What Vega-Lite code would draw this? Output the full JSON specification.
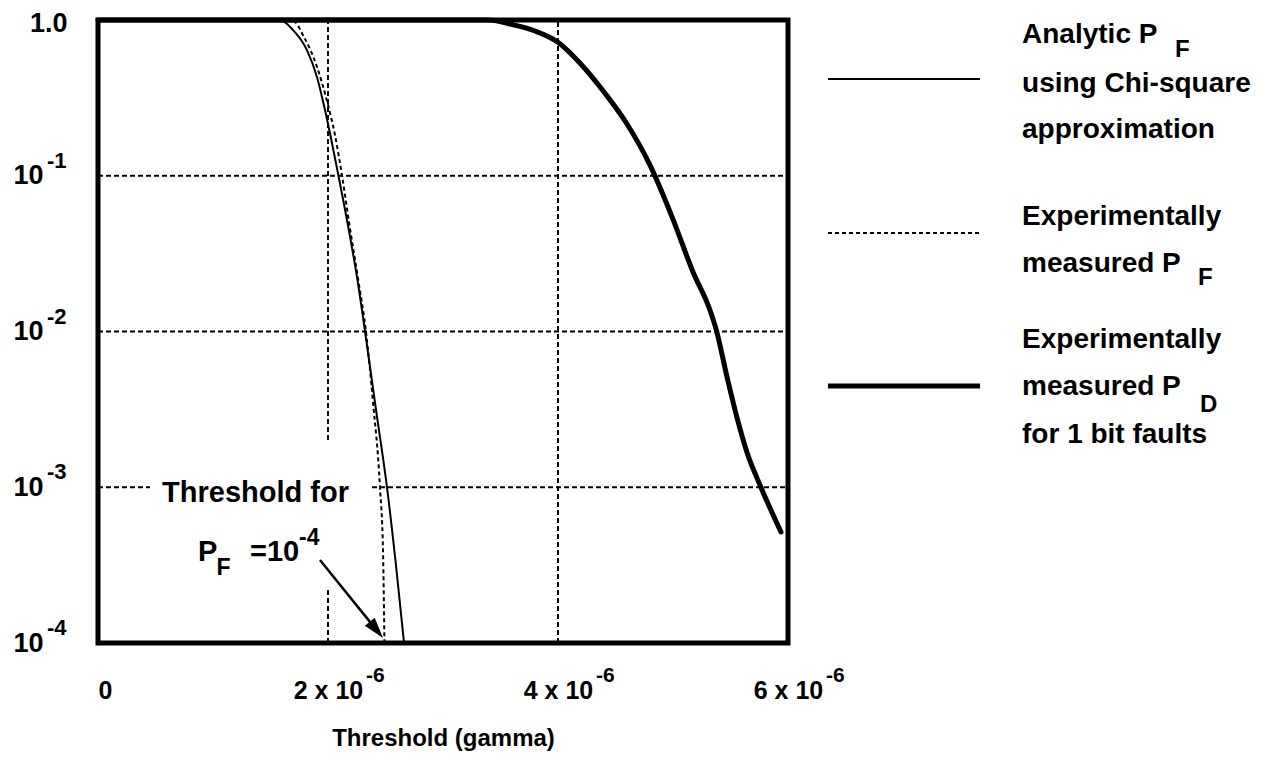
{
  "$schema": "https://vega.github.io/schema/vega-lite/v6.json",
  "width": 690,
  "height": 623,
  "autosize": {"type": "none"},
  "padding": {"left": 98, "top": 20, "right": 489, "bottom": 116},
  "background": "white",
  "config": {
    "view": {"stroke": "black", "strokeWidth": 5},
    "font": "Liberation Sans"
  },
  "datasets": {
    "curves": [
      {"series": "analytic", "x": 0, "y": 1},
      {"series": "analytic", "x": 1.58, "y": 1},
      {"series": "analytic", "x": 1.696, "y": 0.863},
      {"series": "analytic", "x": 1.817, "y": 0.641},
      {"series": "analytic", "x": 1.904, "y": 0.431},
      {"series": "analytic", "x": 1.974, "y": 0.264},
      {"series": "analytic", "x": 2.017, "y": 0.188},
      {"series": "analytic", "x": 2.091, "y": 0.1},
      {"series": "analytic", "x": 2.174, "y": 0.0479},
      {"series": "analytic", "x": 2.252, "y": 0.0224},
      {"series": "analytic", "x": 2.322, "y": 0.01},
      {"series": "analytic", "x": 2.417, "y": 0.00316},
      {"series": "analytic", "x": 2.513, "y": 0.001},
      {"series": "analytic", "x": 2.591, "y": 0.000316},
      {"series": "analytic", "x": 2.661, "y": 0.0001},
      {"series": "measured", "x": 0, "y": 1},
      {"series": "measured", "x": 1.687, "y": 1},
      {"series": "measured", "x": 1.791, "y": 0.778},
      {"series": "measured", "x": 1.904, "y": 0.501},
      {"series": "measured", "x": 1.991, "y": 0.302},
      {"series": "measured", "x": 2.061, "y": 0.182},
      {"series": "measured", "x": 2.122, "y": 0.1},
      {"series": "measured", "x": 2.183, "y": 0.0501},
      {"series": "measured", "x": 2.261, "y": 0.0219},
      {"series": "measured", "x": 2.33, "y": 0.01},
      {"series": "measured", "x": 2.391, "y": 0.00355},
      {"series": "measured", "x": 2.452, "y": 0.001},
      {"series": "measured", "x": 2.478, "y": 0.000398},
      {"series": "measured", "x": 2.491, "y": 0.0001},
      {"series": "pd", "x": 0, "y": 1},
      {"series": "pd", "x": 3.4, "y": 1},
      {"series": "pd", "x": 3.6, "y": 0.935},
      {"series": "pd", "x": 3.8, "y": 0.85},
      {"series": "pd", "x": 4.0, "y": 0.72},
      {"series": "pd", "x": 4.2, "y": 0.52},
      {"series": "pd", "x": 4.4, "y": 0.345},
      {"series": "pd", "x": 4.6, "y": 0.215},
      {"series": "pd", "x": 4.8, "y": 0.117},
      {"series": "pd", "x": 5.0, "y": 0.0525},
      {"series": "pd", "x": 5.174, "y": 0.0241},
      {"series": "pd", "x": 5.322, "y": 0.0137},
      {"series": "pd", "x": 5.374, "y": 0.0104},
      {"series": "pd", "x": 5.47, "y": 0.0051},
      {"series": "pd", "x": 5.557, "y": 0.00279},
      {"series": "pd", "x": 5.643, "y": 0.00168},
      {"series": "pd", "x": 5.757, "y": 0.00103},
      {"series": "pd", "x": 5.939, "y": 0.000516}
    ],
    "grid": [
      {"x": 0, "x2": 6, "y": 0.1, "y2": 0.1},
      {"x": 0, "x2": 6, "y": 0.01, "y2": 0.01},
      {"x": 0, "x2": 0.452, "y": 0.001, "y2": 0.001},
      {"x": 2.383, "x2": 6, "y": 0.001, "y2": 0.001},
      {"x": 4, "x2": 4, "y": 0.0001, "y2": 1},
      {"x": 2, "x2": 2, "y": 0.00201, "y2": 1},
      {"x": 2, "x2": 2, "y": 0.0001, "y2": 0.000225}
    ],
    "legendLines": [
      {"series": "analytic", "x": 6.348, "x2": 7.67, "y": 0.418},
      {"series": "measured", "x": 6.348, "x2": 7.67, "y": 0.0429},
      {"series": "pd", "x": 6.348, "x2": 7.67, "y": 0.00447}
    ],
    "legendText": [
      {"x": 8.035, "y": 0.711, "t": "Analytic P"},
      {"x": 8.035, "y": 0.345, "t": "using Chi-square"},
      {"x": 8.035, "y": 0.1747, "t": "approximation"},
      {"x": 8.035, "y": 0.0483, "t": "Experimentally"},
      {"x": 8.035, "y": 0.0241, "t": "measured P"},
      {"x": 8.035, "y": 0.00783, "t": "Experimentally"},
      {"x": 8.035, "y": 0.00391, "t": "measured P"},
      {"x": 8.035, "y": 0.00192, "t": "for 1 bit faults"}
    ],
    "legendSub": [
      {"x": 9.365, "y": 0.5786, "t": "F"},
      {"x": 9.565, "y": 0.01989, "t": "F"},
      {"x": 9.583, "y": 0.003041, "t": "D"}
    ],
    "annoText": [
      {"x": 0.557, "y": 0.000804, "t": "Threshold for"},
      {"x": 0.87, "y": 0.000336, "t": "P"},
      {"x": 1.322, "y": 0.000336, "t": "=10"}
    ],
    "annoSmall": [
      {"x": 1.03, "y": 0.0002733, "t": "F"},
      {"x": 1.748, "y": 0.000426, "t": "-4"}
    ],
    "arrow": [
      {"x": 1.93, "y": 0.000341, "x2": 2.421, "y2": 0.0001214}
    ],
    "arrowHead": [
      {"x": 2.421, "y": 0.0001214}
    ],
    "yExp": [
      {"x": 0, "y": 0.1, "t": "-1"},
      {"x": 0, "y": 0.01, "t": "-2"},
      {"x": 0, "y": 0.001, "t": "-3"},
      {"x": 0, "y": 0.0001, "t": "-4"}
    ],
    "xExp": [
      {"x": 2, "y": 0.0001, "t": "-6"},
      {"x": 4, "y": 0.0001, "t": "-6"},
      {"x": 6, "y": 0.0001, "t": "-6"}
    ]
  },
  "encoding": {
    "x": {
      "field": "x",
      "type": "quantitative",
      "scale": {"domain": [0, 6], "nice": false, "zero": false},
      "axis": {
        "values": [0, 2, 4, 6],
        "labelExpr": "datum.value == 0 ? '0' : datum.value + ' x 10'",
        "labelFlush": false,
        "labelAlign": {"condition": {"test": "datum.value == 0", "value": "left"}, "value": "center"},
        "labelFont": "Liberation Sans",
        "labelFontWeight": "bold",
        "labelFontSize": 25,
        "labelColor": "black",
        "labelPadding": 35,
        "ticks": false,
        "tickSize": 0,
        "domain": false,
        "grid": false,
        "title": "Threshold (gamma)",
        "titleFont": "Liberation Sans",
        "titleFontWeight": "bold",
        "titleFontSize": 24,
        "titleColor": "black",
        "titleY": 102,
        "titleBaseline": "alphabetic"
      }
    },
    "y": {
      "field": "y",
      "type": "quantitative",
      "scale": {"type": "log", "domain": [0.0001, 1], "nice": false},
      "axis": {
        "values": [1, 0.1, 0.01, 0.001, 0.0001],
        "labelExpr": "datum.value == 1 ? '1.0' : '10'",
        "labelFont": "Liberation Sans",
        "labelFontWeight": "bold",
        "labelFontSize": 27,
        "labelColor": "black",
        "labelPadding": {"condition": {"test": "datum.value == 1", "value": 31}, "value": 55},
        "labelOffset": {"condition": {"test": "datum.value == 1", "value": 3}, "value": 0},
        "ticks": false,
        "tickSize": 0,
        "domain": false,
        "grid": false,
        "title": null
      }
    }
  },
  "layer": [
    {
      "data": {"name": "grid"},
      "mark": {"type": "rule", "color": "black", "strokeWidth": 2, "strokeDash": [5, 3]},
      "encoding": {"x2": {"field": "x2"}, "y2": {"field": "y2"}}
    },
    {
      "data": {"name": "curves"},
      "transform": [{"filter": "datum.series == 'analytic'"}],
      "mark": {"type": "line", "color": "black", "strokeWidth": 2, "interpolate": "monotone"}
    },
    {
      "data": {"name": "curves"},
      "transform": [{"filter": "datum.series == 'measured'"}],
      "mark": {"type": "line", "color": "black", "strokeWidth": 2, "strokeDash": [4, 3], "interpolate": "monotone"}
    },
    {
      "data": {"name": "curves"},
      "transform": [{"filter": "datum.series == 'pd'"}],
      "mark": {"type": "line", "color": "black", "strokeWidth": 5, "interpolate": "monotone", "strokeCap": "round"}
    },
    {
      "data": {"name": "legendLines"},
      "transform": [{"filter": "datum.series == 'analytic'"}],
      "mark": {"type": "rule", "color": "black", "strokeWidth": 2},
      "encoding": {"x2": {"field": "x2"}}
    },
    {
      "data": {"name": "legendLines"},
      "transform": [{"filter": "datum.series == 'measured'"}],
      "mark": {"type": "rule", "color": "black", "strokeWidth": 2, "strokeDash": [4, 3]},
      "encoding": {"x2": {"field": "x2"}}
    },
    {
      "data": {"name": "legendLines"},
      "transform": [{"filter": "datum.series == 'pd'"}],
      "mark": {"type": "rule", "color": "black", "strokeWidth": 5},
      "encoding": {"x2": {"field": "x2"}}
    },
    {
      "data": {"name": "arrow"},
      "mark": {"type": "rule", "color": "black", "strokeWidth": 2.5},
      "encoding": {"x2": {"field": "x2"}, "y2": {"field": "y2"}}
    },
    {
      "data": {"name": "arrowHead"},
      "mark": {"type": "point", "shape": "M-0.6,-1L0.6,-1L0,1Z", "size": 441, "angle": 321, "filled": true, "color": "black", "opacity": 1}
    },
    {
      "data": {"name": "legendText"},
      "mark": {"type": "text", "align": "left", "baseline": "alphabetic", "font": "Liberation Sans", "fontWeight": "bold", "fontSize": 28, "color": "black"},
      "encoding": {"text": {"field": "t"}}
    },
    {
      "data": {"name": "legendSub"},
      "mark": {"type": "text", "align": "left", "baseline": "alphabetic", "font": "Liberation Sans", "fontWeight": "bold", "fontSize": 24, "color": "black"},
      "encoding": {"text": {"field": "t"}}
    },
    {
      "data": {"name": "annoText"},
      "mark": {"type": "text", "align": "left", "baseline": "alphabetic", "font": "Liberation Sans", "fontWeight": "bold", "fontSize": 29, "color": "black"},
      "encoding": {"text": {"field": "t"}}
    },
    {
      "data": {"name": "annoSmall"},
      "mark": {"type": "text", "align": "left", "baseline": "alphabetic", "font": "Liberation Sans", "fontWeight": "bold", "fontSize": 23, "color": "black"},
      "encoding": {"text": {"field": "t"}}
    },
    {
      "data": {"name": "yExp"},
      "mark": {"type": "text", "align": "left", "baseline": "alphabetic", "dx": -51, "dy": -8, "font": "Liberation Sans", "fontWeight": "bold", "fontSize": 22, "color": "black"},
      "encoding": {"text": {"field": "t"}}
    },
    {
      "data": {"name": "xExp"},
      "mark": {"type": "text", "align": "left", "baseline": "alphabetic", "dx": 38, "dy": 39, "font": "Liberation Sans", "fontWeight": "bold", "fontSize": 21, "color": "black"},
      "encoding": {"text": {"field": "t"}}
    }
  ]
}
